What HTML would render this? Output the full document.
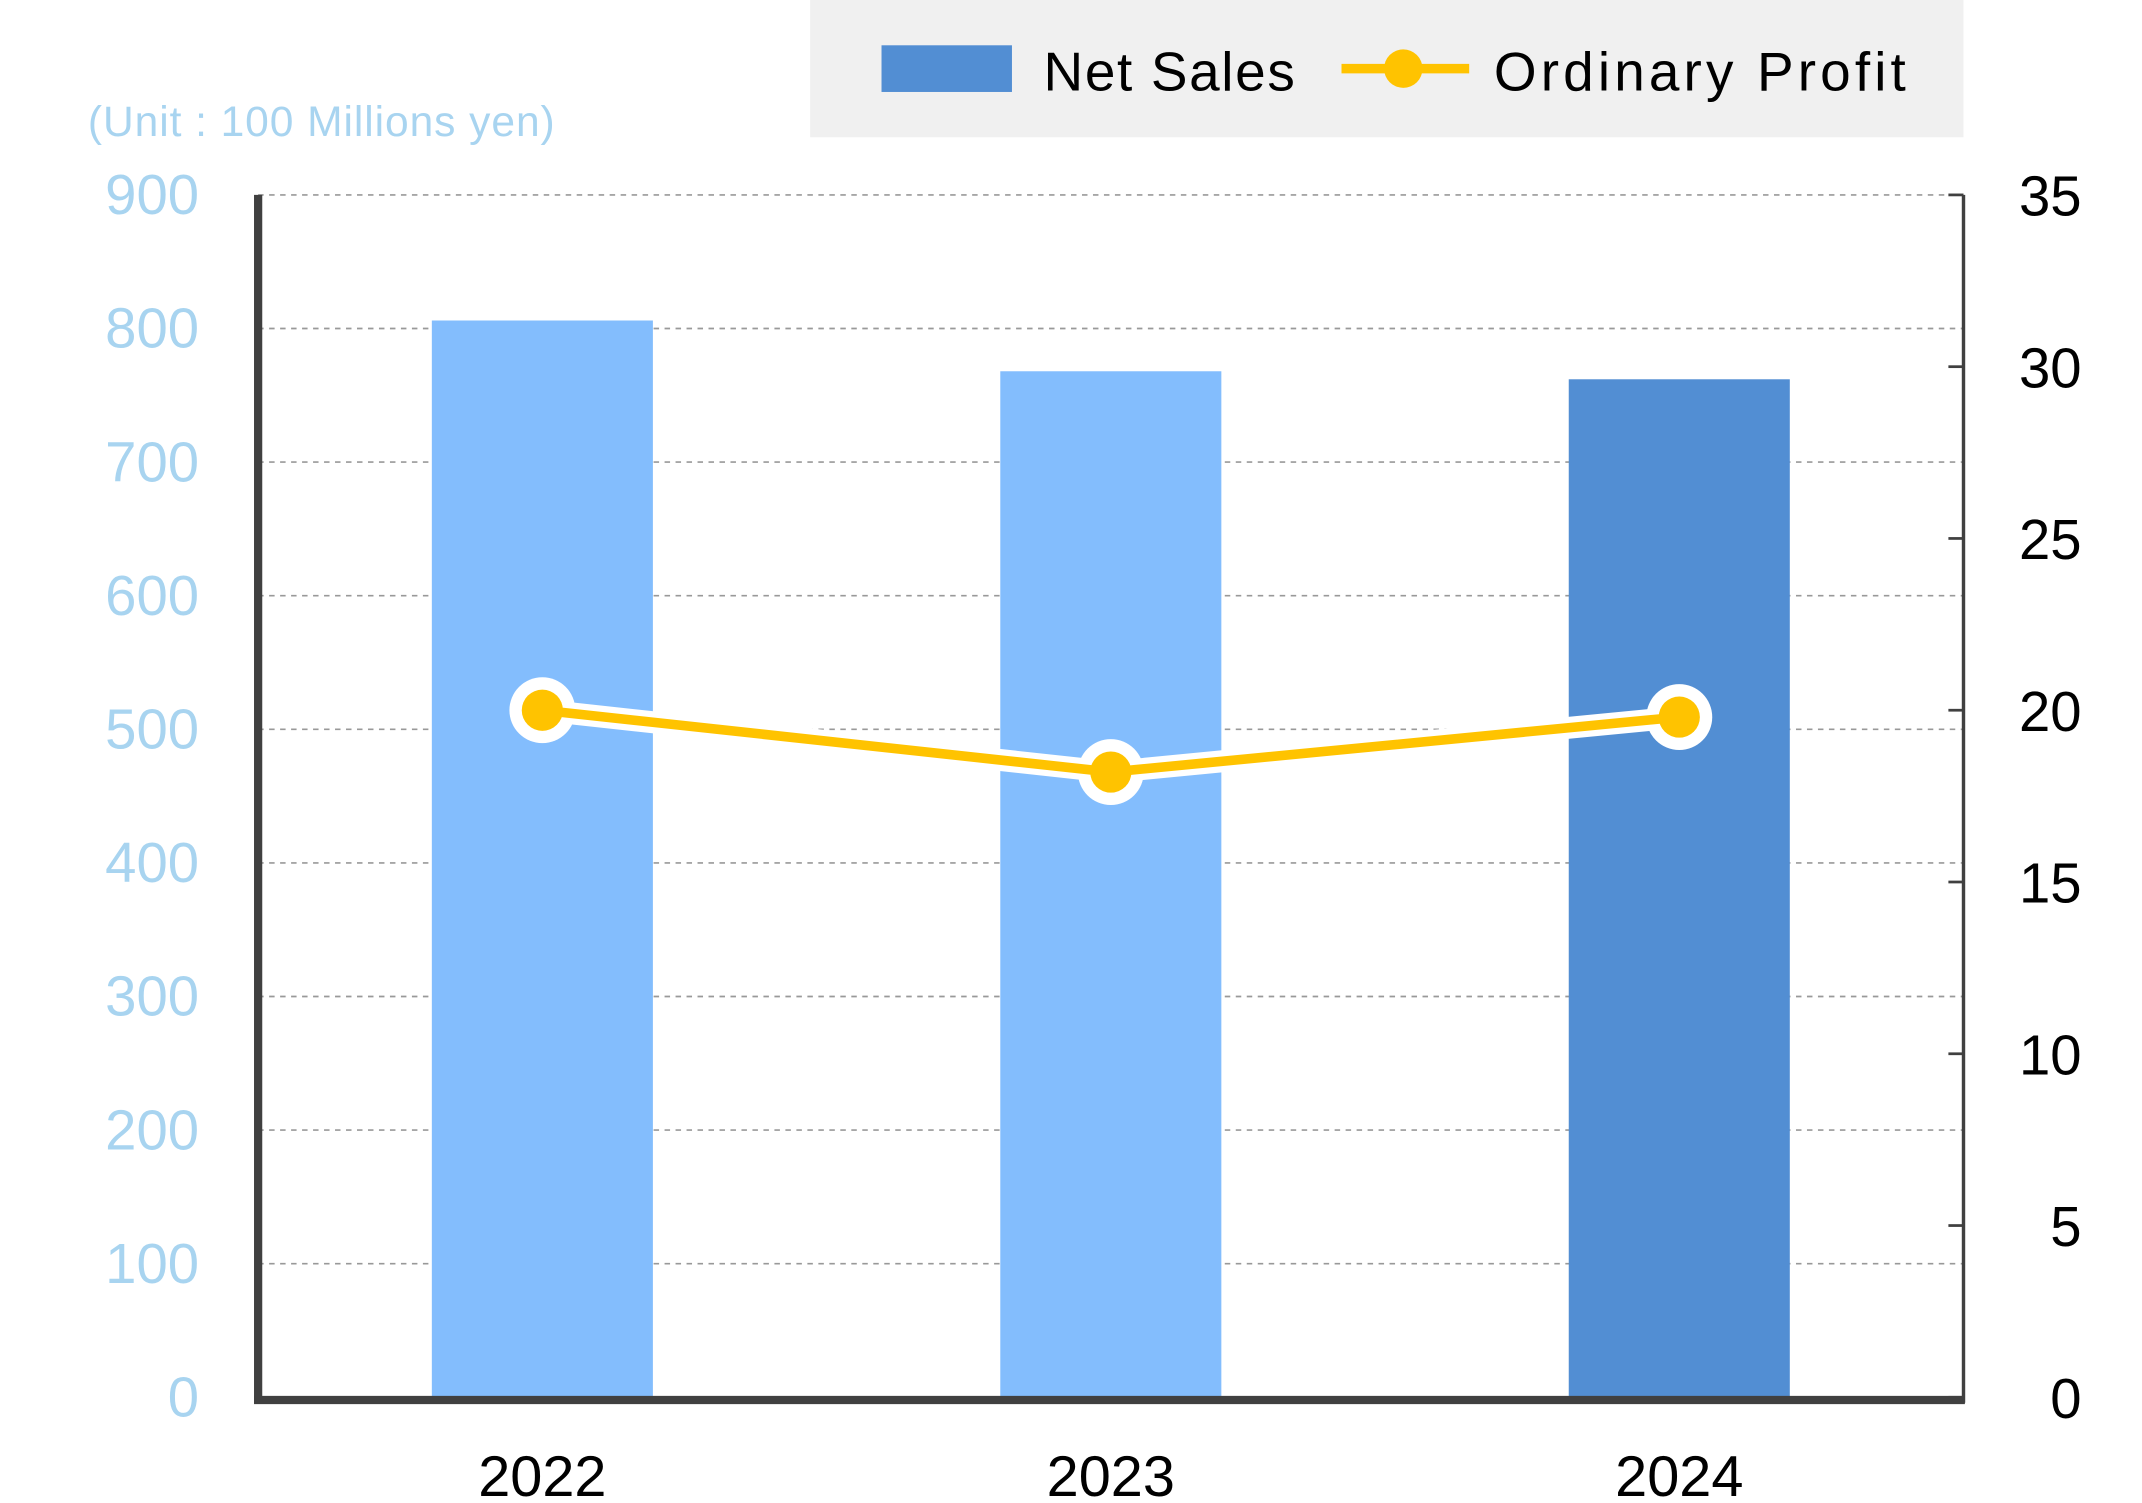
<!DOCTYPE html>
<html><head><meta charset="utf-8"><style>
html,body{margin:0;padding:0;background:#fff}
svg{display:block;font-family:"Liberation Sans","DejaVu Sans",sans-serif}
</style></head><body>
<svg id="chart" width="2142" height="1503" viewBox="0 0 1560 1095" preserveAspectRatio="none" xmlns="http://www.w3.org/2000/svg">
<rect x="590" y="0" width="840" height="100" fill="#f0f0f0"/>
<rect x="642" y="33" width="95" height="34" fill="#528ed3"/>
<text x="760" y="66" font-size="40" fill="#000" textLength="183">Net Sales</text>
<line x1="977" y1="50" x2="1070" y2="50" stroke="#ffc300" stroke-width="7"/>
<circle cx="1022" cy="50" r="14" fill="#ffc300"/>
<text x="1088" y="66" font-size="40" fill="#000" textLength="300">Ordinary Profit</text>
<text x="64" y="99" font-size="31" fill="#a8d4f0" textLength="340">(Unit : 100 Millions yen)</text>
<g id="grid"></g><g id="bars"></g><g id="axes"></g><g id="line"></g>
</svg>
<script>
const categories=["2022","2023","2024"];
const netSales=[806,768,762];
const ordinaryProfit=[20.0,18.2,19.8];
const leftTicks=[0,100,200,300,400,500,600,700,800,900];
const rightTicks=[0,5,10,15,20,25,30,35];
const NS="http://www.w3.org/2000/svg";
const L=188,R=1430,T=142,B=1018;
const yL=v=>B-(v/900)*(B-T);
const yR=v=>B-(v/35)*(B-T);
const slot=(R-L)/categories.length;
const xC=i=>L+slot*(i+0.5);
function mk(tag,attrs,parent,txt){const e=document.createElementNS(NS,tag);for(const k in attrs)e.setAttribute(k,attrs[k]);if(txt!==undefined)e.textContent=txt;document.getElementById(parent).appendChild(e);return e;}
leftTicks.forEach(v=>{
  if(v>0){const g=mk('line',{x1:L,x2:R,y1:yL(v),y2:yL(v),stroke:'#999','stroke-width':1.2,'stroke-dasharray':'4 4'},'grid');
  
  }
  const t=mk('text',{x:145,y:yL(v)+14,'text-anchor':'end','font-size':41,fill:'#a8d4f0'},'axes',v);
  
  
});
rightTicks.forEach(v=>{
  const k=mk('line',{x1:R-11,x2:R,y1:yR(v),y2:yR(v),stroke:'#404040','stroke-width':2},'axes');
  
  
  const t=mk('text',{x:1516,y:yR(v)+15,'text-anchor':'end','font-size':41,fill:'#000'},'axes',v);
  
  
});
const bw=161;
categories.forEach((c,i)=>{
  const b=mk('rect',{x:xC(i)-bw/2,y:yL(netSales[i]),width:bw,height:B-yL(netSales[i]),fill:i===2?'#528ed3':'#83bdfd'},'bars');
  
  
  const t=mk('text',{x:xC(i),y:1090,'text-anchor':'middle','font-size':42,fill:'#000'},'axes',c);
  
  
});
const ax1=mk('line',{x1:L,x2:L,y1:T,y2:B+4,stroke:'#404040','stroke-width':6},'axes');


const ax2=mk('line',{x1:R,x2:R,y1:T,y2:B+4,stroke:'#404040','stroke-width':2.5},'axes');


const ax3=mk('line',{x1:L-3,x2:R+1,y1:B+2,y2:B+2,stroke:'#404040','stroke-width':6},'axes');


const pts=ordinaryProfit.map((v,i)=>xC(i)+','+yR(v)).join(' ');
const lo=mk('polyline',{points:pts,fill:'none',stroke:'#fff','stroke-width':16,'stroke-linejoin':'round'},'line');


ordinaryProfit.forEach((v,i)=>{const c=mk('circle',{cx:xC(i),cy:yR(v),r:24,fill:'#fff'},'line');
  
  });
const ln=mk('polyline',{points:pts,fill:'none',stroke:'#ffc300','stroke-width':7,'stroke-linejoin':'round'},'line');


ordinaryProfit.forEach((v,i)=>{const c=mk('circle',{cx:xC(i),cy:yR(v),r:15,fill:'#ffc300'},'line');
  
  });
</script>
</body></html>
